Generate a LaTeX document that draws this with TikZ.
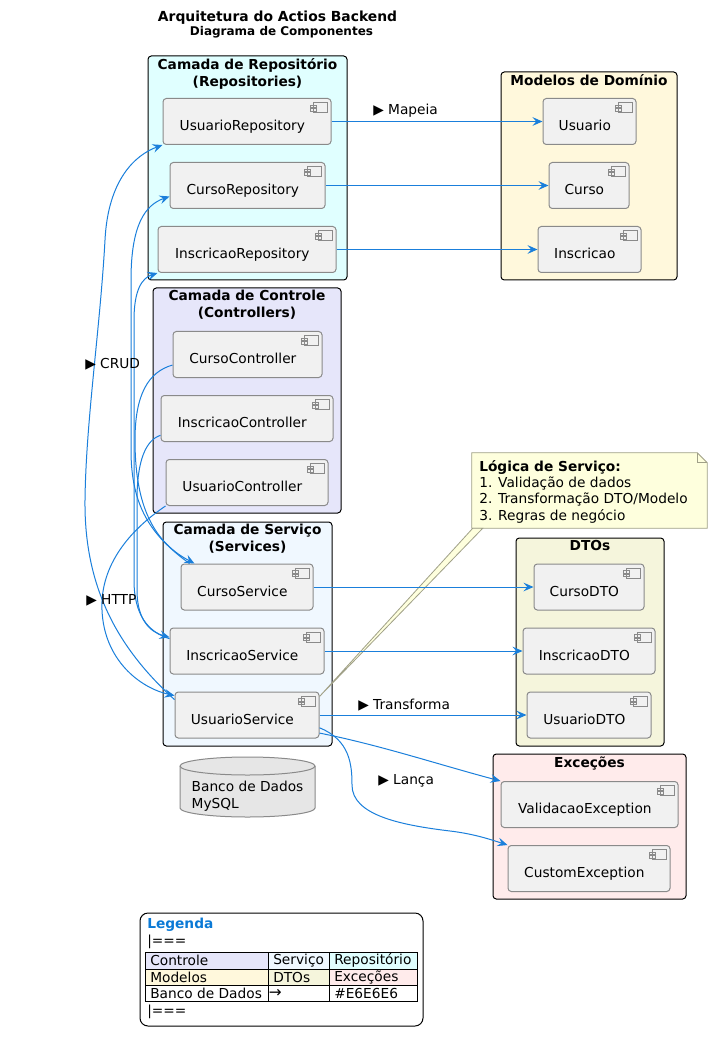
\documentclass[tikz,border=0pt]{standalone}
\usepackage{fontspec}
\setmainfont{DejaVu Sans}
\usetikzlibrary{positioning,calc,arrows.meta}
\definecolor{flowblue}{HTML}{1A7FDB}
\definecolor{compfill}{HTML}{F1F1F1}
\definecolor{compgray}{HTML}{8A8A8A}
\definecolor{repofill}{HTML}{E0FFFF}
\definecolor{ctrlfill}{HTML}{E6E6FA}
\definecolor{svcfill}{HTML}{F0F8FF}
\definecolor{modelfill}{HTML}{FFF8DC}
\definecolor{dtofill}{HTML}{F5F5DC}
\definecolor{excfill}{HTML}{FFEBEB}
\definecolor{notefill}{HTML}{FEFFDD}
\definecolor{notegray}{HTML}{A0A088}
\definecolor{dbfill}{HTML}{E6E6E6}
\definecolor{legendblue}{HTML}{0B7AD6}

\tikzset{
  boxsize/.style 2 args={minimum width=#1*0.75pt, minimum height=#2*0.75pt},
  cw/.style={minimum width=#1*0.75pt},
  pkg/.style={draw=black, line width=0.75pt, rounded corners=2.5pt, inner sep=0pt},
  pkgtitle/.style={font=\bfseries\fontsize{10.3}{12.75}\selectfont, align=center, inner sep=0pt},
  comp/.style={draw=compgray, fill=compfill, line width=0.75pt, rounded corners=2.5pt,
    minimum height=34.5pt, text height=14pt, text depth=0pt, inner sep=0pt,
    execute at end node=\hspace*{7pt},
    path picture={
      \draw[compgray, fill=compfill, sharp corners, line width=0.6pt]
        ($(path picture bounding box.north east)+(-18,4)$) rectangle ++(14,10)
        ($(path picture bounding box.north east)+(-21,6.5)$) rectangle ++(6,2.5)
        ($(path picture bounding box.north east)+(-21,10)$) rectangle ++(6,2.5);
    }},
  flow/.style={draw=flowblue, line width=0.75pt, -{Stealth[length=7.5pt, width=6.5pt, inset=2.8pt]}},
  lbl/.style={anchor=west, inner sep=0pt},
  notestyle/.style={draw=notegray, fill=notefill, line width=0.6pt},
  notetext/.style={anchor=west, inner sep=0pt, align=left, font=\fontsize{10.3}{12.25}\selectfont},
}

\begin{document}
\begin{tikzpicture}[x=0.75pt, y=-0.75pt, every node/.style={font=\fontsize{10.3}{12.4}\selectfont}]
  \useasboundingbox[fill=white] (0,0) rectangle (712,1044);

  % titulo
  \node[font=\bfseries\fontsize{10.4}{12}\selectfont] (diagTitle) at (277.5,18) {Arquitetura do Actios Backend};
  \node[font=\bfseries\fontsize{9}{11}\selectfont] (diagSub) at (281.5,32) {Diagrama de Componentes};

  % pacotes
  \node[pkg, fill=repofill, boxsize={199}{224}] (repoPkg) at (247.5,168) {};
  \node[pkgtitle, below=2pt of repoPkg.north] (repoTitle) {Camada de Repositório\\(Repositories)};
  \node[pkg, fill=ctrlfill, boxsize={188}{225}] (ctrlPkg) at (247,400.5) {};
  \node[pkgtitle, below=2pt of ctrlPkg.north] (ctrlTitle) {Camada de Controle\\(Controllers)};
  \node[pkg, fill=svcfill, boxsize={169}{224}] (svcPkg) at (247.5,634) {};
  \node[pkgtitle, below=2pt of svcPkg.north] (svcTitle) {Camada de Serviço\\(Services)};
  \node[pkg, fill=modelfill, boxsize={176}{208}] (modelPkg) at (589,176) {};
  \node[pkgtitle, below=2pt of modelPkg.north] (modelTitle) {Modelos de Domínio};
  \node[pkg, fill=dtofill, boxsize={148}{208}] (dtoPkg) at (590,642) {};
  \node[pkgtitle, below=2pt of dtoPkg.north] (dtoTitle) {DTOs};
  \node[pkg, fill=excfill, boxsize={193}{145}] (excPkg) at (589.5,826.5) {};
  \node[pkgtitle, below=2pt of excPkg.north] (excTitle) {Exceções};

  % componentes
  \node[comp, cw=168] (usuarioRepo) at (247,121.5) {UsuarioRepository};
  \node[comp, cw=155] (cursoRepo) at (247.5,185.5) {CursoRepository};
  \node[comp, cw=178] (inscricaoRepo) at (247,249.5) {InscricaoRepository};
  \node[comp, cw=149] (cursoCtrl) at (247.5,354.5) {CursoController};
  \node[comp, cw=172] (inscricaoCtrl) at (247,418.5) {InscricaoController};
  \node[comp, cw=162] (usuarioCtrl) at (247,482.5) {UsuarioController};
  \node[comp, cw=132] (cursoService) at (247,587) {CursoService};
  \node[comp, cw=154] (inscricaoService) at (247,651) {InscricaoService};
  \node[comp, cw=144] (usuarioService) at (247,715) {UsuarioService};
  \node[comp, cw=93] (usuarioModel) at (589.5,121.5) {Usuario};
  \node[comp, cw=80] (cursoModel) at (589,185.5) {Curso};
  \node[comp, cw=103] (inscricaoModel) at (589.5,249.5) {Inscricao};
  \node[comp, cw=110] (cursoDto) at (589,587) {CursoDTO};
  \node[comp, cw=132] (inscricaoDto) at (589,651) {InscricaoDTO};
  \node[comp, cw=124] (usuarioDto) at (589,715) {UsuarioDTO};
  \node[comp, cw=177] (validacaoExc) at (589.5,804.5) {ValidacaoException};
  \node[comp, cw=162] (customExc) at (589,868.5) {CustomException};

  % banco de dados
  \filldraw[draw=compgray, fill=dbfill, line width=0.75pt] (180,766) -- (180,808)
    arc[start angle=180, end angle=0, x radius=67.5, y radius=9] -- (315,766)
    arc[start angle=0, end angle=-180, x radius=67.5, y radius=9] -- cycle;
  \draw[compgray, line width=0.75pt] (180,766) arc[start angle=180, end angle=0, x radius=67.5, y radius=9];
  \node[align=left, inner sep=0pt] (mysqlDb) at (247.5,796) {Banco de Dados\\MySQL};

  % nota
  \node[boxsize={235}{75}, inner sep=0pt] (svcNote) at (589.5,490.5) {};
  \filldraw[notestyle] (svcNote.south west) -- (svcNote.north west) -- ($(svcNote.north east)+(-10,0)$)
    -- ($(svcNote.north east)+(0,10)$) -- (svcNote.south east) -- cycle;
  \draw[notestyle, fill=none] ($(svcNote.north east)+(-10,0)$) -- ($(svcNote.north east)+(-10,10)$) -- ($(svcNote.north east)+(0,10)$);
  \node[notetext] (svcNoteText) at (479,491.5) {\textbf{Lógica de Serviço:}\\1. Validação de dados\\2. Transformação DTO/Modelo\\3. Regras de negócio};
  \filldraw[notestyle] ($(usuarioService.north east)+(0,5)$) -- ($(svcNote.south west)+(1,0)$) -- ($(svcNote.south west)+(11,0)$) -- cycle;

  % mapeia
  \draw[flow] (usuarioRepo.east) -- (usuarioModel.west);
  \draw[flow] (cursoRepo.east) -- (cursoModel.west);
  \draw[flow] (inscricaoRepo.east) -- (inscricaoModel.west);
  \node[lbl] (mapeiaLbl) at (373,111) {▶ Mapeia};

  % CRUD
  \draw[flow] (usuarioService.168) .. controls (120,650) and (84,590) .. (85,500)
    .. controls (86,420) and (100,330) .. (105,240) .. controls (108,180) and (135,155) .. (usuarioRepo.south west);
  \draw[flow] ($(cursoService.north west)+(9,0)$) .. controls (150,535) and (131,505) .. (131,450)
    -- (131,280) .. controls (131,225) and (145,205) .. (cursoRepo.188);
  \draw[flow] (inscricaoService.171) .. controls (148,632) and (134,615) .. (134,580)
    -- (134,320) .. controls (134,290) and (142,278) .. (inscricaoRepo.south west);
  \node[lbl] (crudLbl) at (85,364) {▶ CRUD};

  % HTTP
  \draw[flow] (cursoCtrl.188) .. controls (148,372) and (135,395) .. (135,440)
    .. controls (135,500) and (150,540) .. ($(cursoService.north west)+(14,0)$);
  \draw[flow] (inscricaoCtrl.191) .. controls (146,440) and (137,460) .. (137,500)
    -- (137,590) .. controls (137,620) and (150,632) .. (inscricaoService.170);
  \draw[flow] (usuarioCtrl.south west) .. controls (130,530) and (100,565) .. (102,610)
    .. controls (104,660) and (140,688) .. (usuarioService.165);
  \node[lbl] (httpLbl) at (86,600) {▶ HTTP};

  % transforma
  \draw[flow] (cursoService.east) -- (cursoDto.west);
  \draw[flow] (inscricaoService.east) -- (inscricaoDto.west);
  \draw[flow] (usuarioService.east) -- (usuarioDto.west);
  \node[lbl] (transfLbl) at (358,705) {▶ Transforma};

  % lanca
  \draw[flow] (usuarioService.346) .. controls (380,745) and (440,765) .. (validacaoExc.north west);
  \draw[flow] (usuarioService.350) .. controls (350,740) and (352,765) .. (352,785)
    .. controls (352,815) and (400,825) .. (450,831) .. controls (475,834) and (492,840) .. (customExc.north west);
  \node[lbl] (lancaLbl) at (378,781) {▶ Lança};

  % legenda
  \node[draw=black, line width=0.75pt, rounded corners=6pt, boxsize={283}{113}] (legendBox) at (281.5,969.5) {};
  \node[lbl, font=\bfseries\fontsize{10.3}{12}\selectfont, text=legendblue] (legTitle) at (147,925) {Legenda};
  \node[lbl] (legOpen) at (147,942) {|===};
  \foreach \xa/\xb/\ya/\yb/\fc/\txt [count=\i] in {
      145/268/952/969/ctrlfill/Controle,
      268/329/952/969/svcfill/Serviço,
      329/417/952/969/repofill/Repositório,
      145/268/969/985/modelfill/Modelos,
      268/329/969/985/dtofill/DTOs,
      329/417/969/985/excfill/Exceções,
      145/268/985/1001/white/Banco de Dados,
      268/329/985/1001/white/,
      329/417/985/1001/white/\#E6E6E6} {
    \filldraw[fill=\fc, draw=black, line width=0.75pt] (\xa,\ya) rectangle (\xb,\yb);
    \node[lbl] (legCell\i) at ({\xa+5},{(\ya+\yb)/2}) {\txt};
  }
  \node[lbl, font=\fontsize{11.5}{12}\selectfont] (legArrow) at (268.5,993) {→};
  \node[lbl] (legClose) at (147,1012) {|===};
\end{tikzpicture}
\end{document}
